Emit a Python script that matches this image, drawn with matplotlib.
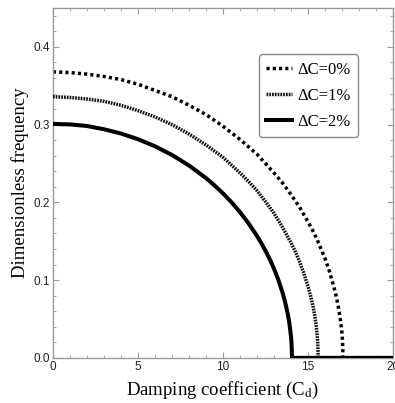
import matplotlib
matplotlib.use("Agg")
import matplotlib.pyplot as plt
from matplotlib.ticker import MultipleLocator, FormatStrFormatter

# values
cd_0 = [0, 1, 2, 3, 4, 5, 6, 7, 8, 9, 10, 11, 12, 12.5, 13, 13.5, 14, 14.5, 15,
        15.25, 15.5, 15.75, 16, 16.25, 16.5, 16.65, 16.8, 16.9, 17.0, 17.03, 17.06, 20]
w_0 = [0.368, 0.367, 0.365, 0.362, 0.358, 0.352, 0.344, 0.336, 0.325, 0.313,
       0.298, 0.281, 0.262, 0.250, 0.238, 0.225, 0.210, 0.194, 0.175,
       0.165, 0.154, 0.141, 0.128, 0.112, 0.093, 0.080, 0.064, 0.050, 0.031,
       0.022, 0.0, 0.0]

cd_1 = [0, 1, 2, 3, 4, 5, 6, 7, 8, 9, 10, 10.5, 11, 11.5, 12, 12.5, 13, 13.5, 14,
        14.25, 14.5, 14.75, 15, 15.15, 15.3, 15.4, 15.5, 15.57, 15.6, 20]
w_1 = [0.336, 0.335, 0.333, 0.330, 0.325, 0.318, 0.310, 0.300, 0.288, 0.274,
       0.258, 0.248, 0.238, 0.227, 0.215, 0.201, 0.186, 0.168, 0.148,
       0.137, 0.124, 0.109, 0.092, 0.080, 0.066, 0.054, 0.038, 0.021, 0.0, 0.0]

cd_2 = [0, 1, 2, 3, 4, 5, 6, 7, 8, 9, 9.5, 10, 10.5, 11, 11.5, 12, 12.25, 12.5,
        12.75, 13, 13.25, 13.5, 13.65, 13.8, 13.9, 14.0, 14.03, 14.06, 20]
w_2 = [0.301, 0.3003, 0.2983, 0.2941, 0.2886, 0.2813, 0.2722, 0.2610, 0.2475, 0.2313,
       0.2219, 0.2116, 0.2002, 0.1875, 0.1732, 0.1568, 0.1477, 0.1378,
       0.1269, 0.1147, 0.1007, 0.0841, 0.0722, 0.0576, 0.0453, 0.0278, 0.0196, 0.0, 0.0]

labels = ["\u0394C=0%", "\u0394C=1%", "\u0394C=2%"]

plt.rcParams["mathtext.fontset"] = "stix"
fig = plt.figure(figsize=(3.95, 4.03), dpi=100)
ax = fig.add_axes([0.134, 0.112, 0.861, 0.868])

ax.plot(cd_0, w_0, color="black", lw=2.5, dashes=(0.9, 0.9), label=labels[0], zorder=2)
ax.plot(cd_1, w_1, color="#111111", lw=2.5, dashes=(0.5, 0.3), label=labels[1], zorder=3)
ax.plot(cd_2, w_2, color="black", lw=2.9, solid_joinstyle="round", label=labels[2], zorder=4)

ax.set_xlim(0, 20)
ax.set_ylim(0, 0.45)
ax.xaxis.set_major_locator(MultipleLocator(5))
ax.xaxis.set_minor_locator(MultipleLocator(1))
ax.yaxis.set_major_locator(MultipleLocator(0.1))
ax.yaxis.set_minor_locator(MultipleLocator(0.02))
ax.yaxis.set_major_formatter(FormatStrFormatter("%.1f"))

for s in ax.spines.values():
    s.set_color("#999999")
    s.set_linewidth(1.0)
ax.tick_params(which="both", direction="in", top=True, right=True, color="#999999",
               labelcolor="#222222", labelsize=8.5, pad=2)
ax.tick_params(which="major", length=4, width=0.8)
ax.tick_params(which="minor", length=2.5, width=0.6)
for t in ax.get_xticklabels() + ax.get_yticklabels():
    t.set_family("Liberation Sans")

ax.set_xlabel("Damping coefficient (C$_\\mathrm{d}$)", family="Liberation Serif",
              fontsize=13.5, labelpad=5)
ax.set_ylabel("Dimensionless frequency", family="Liberation Serif", fontsize=13.5, labelpad=3)

leg = ax.legend(loc="upper right", bbox_to_anchor=(0.897, 0.868), fancybox=True,
                prop={"family": "Liberation Serif", "size": 12}, handlelength=1.55,
                handletextpad=0.3, borderpad=0.45, labelspacing=0.6, framealpha=1,
                borderaxespad=0)
leg.get_frame().set_edgecolor("#888888")
leg.get_frame().set_linewidth(1.0)

fig.savefig("out.png", dpi=100)
